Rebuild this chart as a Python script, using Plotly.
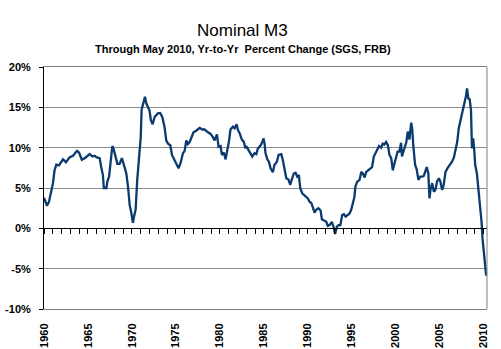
import plotly.graph_objects as go

# Decimal year and year-to-year percent change
years = [
    1960.00, 1960.17, 1960.34, 1960.57, 1960.84, 1961.02, 1961.20, 1961.40, 1961.70, 1962.16,
    1962.50, 1962.90, 1963.30, 1963.75, 1963.98, 1964.30, 1964.70, 1965.20, 1965.50, 1965.76,
    1966.00, 1966.33, 1966.50, 1966.70, 1966.80, 1967.10, 1967.20, 1967.40, 1967.60, 1967.77,
    1967.90, 1968.10, 1968.34, 1968.60, 1968.86, 1969.10, 1969.36, 1969.55, 1969.74, 1969.93,
    1970.11, 1970.23, 1970.42, 1970.60, 1970.80, 1971.00, 1971.10, 1971.36, 1971.48, 1971.63,
    1971.82, 1972.00, 1972.15, 1972.35, 1972.58, 1972.95, 1973.20, 1973.45, 1973.70, 1973.90,
    1974.10, 1974.36, 1974.55, 1974.74, 1975.05, 1975.30, 1975.53, 1975.80, 1975.99, 1976.18,
    1976.36, 1976.56, 1976.80, 1977.00, 1977.30, 1977.70, 1978.00, 1978.26, 1978.64, 1978.94,
    1979.20, 1979.40, 1979.66, 1979.85, 1980.08, 1980.23, 1980.45, 1980.65, 1980.84, 1981.02,
    1981.20, 1981.48, 1981.67, 1981.90, 1982.05, 1982.24, 1982.50, 1982.73, 1982.90, 1983.00,
    1983.26, 1983.50, 1983.68, 1983.94, 1984.14, 1984.32, 1984.63, 1984.82, 1984.97, 1985.08,
    1985.19, 1985.39, 1985.57, 1985.76, 1986.02, 1986.20, 1986.48, 1986.67, 1986.98, 1987.16,
    1987.35, 1987.55, 1987.80, 1988.00, 1988.18, 1988.40, 1988.60, 1988.80, 1988.98, 1989.14,
    1989.36, 1989.63, 1990.00, 1990.19, 1990.39, 1990.57, 1990.76, 1990.95, 1991.20, 1991.45,
    1991.60, 1991.80, 1992.10, 1992.27, 1992.47, 1992.73, 1992.92, 1993.10, 1993.30, 1993.50,
    1993.70, 1993.90, 1994.10, 1994.30, 1994.47, 1994.74, 1994.93, 1995.10, 1995.30, 1995.40,
    1995.60, 1995.88, 1996.07, 1996.25, 1996.45, 1996.64, 1996.90, 1997.10, 1997.30, 1997.50,
    1997.70, 1997.95, 1998.10, 1998.33, 1998.52, 1998.70, 1998.90, 1999.10, 1999.28, 1999.48,
    1999.66, 1999.85, 2000.05, 2000.20, 2000.40, 2000.60, 2000.70, 2000.90, 2001.07, 2001.20,
    2001.36, 2001.55, 2001.75, 2001.86, 2002.00, 2002.20, 2002.38, 2002.57, 2002.77, 2003.00,
    2003.18, 2003.37, 2003.52, 2003.70, 2003.83, 2003.94, 2004.14, 2004.32, 2004.50, 2004.70,
    2004.90, 2005.08, 2005.27, 2005.45, 2005.65, 2005.90, 2006.10, 2006.36, 2006.60, 2006.78,
    2006.98, 2007.16, 2007.43, 2007.60, 2007.80, 2007.98, 2008.10, 2008.25, 2008.40, 2008.55,
    2008.66, 2008.80, 2008.92, 2009.03, 2009.22, 2009.40, 2009.60, 2009.75, 2009.86, 2010.05,
    2010.25, 2010.33,
]
m3_pct = [
    3.8, 3.2, 2.8, 3.3, 4.5, 5.6, 7.2, 7.9, 7.8, 8.55,
    8.2, 8.8, 9.0, 9.6, 9.4, 8.5, 8.75, 9.2, 8.9, 9.0,
    8.8, 8.7, 7.6, 6.6, 5.0, 5.0, 5.8, 6.4, 8.5, 10.2,
    9.9, 9.1, 8.0, 8.0, 8.7, 7.8, 6.8, 5.2, 2.9, 1.9,
    0.7, 1.4, 2.35, 6.0, 8.5, 11.3, 14.7, 15.7, 16.3, 15.5,
    14.9, 14.6, 13.4, 12.9, 13.8, 14.25, 14.3, 13.8, 12.6, 10.9,
    10.5, 10.3, 9.1, 8.7, 7.85, 7.45, 8.1, 9.3, 9.6, 10.9,
    10.45, 10.7, 11.35, 11.9, 12.1, 12.45, 12.25, 12.25, 11.9, 11.7,
    11.3, 10.9, 11.65, 10.1, 10.2, 9.1, 9.4, 8.55, 9.7, 10.7,
    12.25, 12.6, 12.4, 12.9, 12.2, 11.8, 11.0, 10.7, 9.9, 10.2,
    9.7, 9.3, 8.9, 9.3, 9.2, 9.9, 10.3, 10.7, 11.15, 10.5,
    9.3, 8.55, 8.25, 7.45, 6.95, 7.85, 8.25, 9.1, 9.2, 8.45,
    7.45, 6.2, 6.05, 5.4, 6.05, 6.8, 6.9, 6.4, 6.6, 4.95,
    4.35, 4.1, 3.7, 3.3, 3.15, 2.6, 1.95, 2.3, 2.5, 2.2,
    1.1, 1.0, 0.8, 0.3, 0.4, 0.8, 0.2, -0.7, 0.2, 0.4,
    0.4, 1.65, 1.75, 1.45, 1.65, 1.85, 2.3, 3.1, 3.9, 5.15,
    5.75, 6.0, 7.0, 6.8, 6.3, 7.0, 7.2, 7.4, 7.6, 8.9,
    9.3, 9.9, 10.2, 10.0, 10.5, 10.4, 10.7, 10.3, 9.1, 8.7,
    7.2, 8.05, 9.1, 9.5, 9.5, 10.6, 8.9, 9.7, 10.1, 10.7,
    12.0, 11.0, 13.1, 12.4, 10.1, 7.85, 7.3, 6.0, 6.4, 6.4,
    6.5, 7.0, 7.6, 6.8, 3.7, 4.75, 5.6, 4.55, 4.75, 5.85,
    6.2, 5.75, 4.75, 5.4, 7.0, 7.5, 7.75, 8.2, 8.75, 9.7,
    10.7, 12.4, 13.6, 14.65, 15.4, 16.4, 17.35, 16.1, 16.0, 14.65,
    9.9, 11.15, 9.7, 7.85, 6.8, 4.95, 2.7, 0.8, -1.25, -3.9,
    -5.6, -5.9,
]

x_label_years = list(range(1960, 2011, 5))
y_ticks = [-10, -5, 0, 5, 10, 15, 20]

FONT = "Liberation Sans"
XRANGE = [1960, 2010.37]

fig = go.Figure()
fig.add_trace(go.Scatter(
    x=years, y=m3_pct, mode="lines",
    line=dict(color="#0a3a6e", width=2.3),
    hoverinfo="skip", showlegend=False,
))
# carrier trace for the zero-line axis with yearly ticks
fig.add_trace(go.Scatter(x=[], y=[], xaxis="x2", yaxis="y", showlegend=False, hoverinfo="skip"))

fig.update_layout(
    width=501, height=349,
    margin=dict(l=44, r=14, t=67, b=40),
    paper_bgcolor="white", plot_bgcolor="white",
    font=dict(family=FONT, color="black"),
    xaxis=dict(
        range=XRANGE, tickmode="array", tickvals=x_label_years,
        ticktext=[str(v) for v in x_label_years],
        ticks="", showgrid=False, zeroline=False, automargin=False,
        showline=True, linecolor="#808080", linewidth=1, mirror=True,
        tickangle=-90, tickfont=dict(family=FONT, size=11, weight="bold", color="black"),
        ticklabelstandoff=9,
    ),
    xaxis2=dict(
        range=XRANGE, overlaying="x", anchor="free", position=1/3,
        tickmode="linear", tick0=1960, dtick=1, automargin=False,
        ticks="outside", ticklen=5, tickcolor="black", tickwidth=1,
        showticklabels=False, showgrid=False, zeroline=False,
        showline=True, linecolor="black", linewidth=1,
    ),
    yaxis=dict(
        range=[-10, 20], tickmode="array", tickvals=y_ticks,
        ticktext=[f"{v}%" for v in y_ticks], automargin=False,
        showgrid=True, gridcolor="#8c8c8c", gridwidth=1, zeroline=False,
        showline=True, linecolor="black", linewidth=1,
        ticks="outside", ticklen=4, tickcolor="black",
        tickfont=dict(family=FONT, size=11, weight="bold", color="black"),
        ticklabelstandoff=6,
    ),
    shapes=[dict(type="line", xref="paper", yref="paper", x0=1, x1=1, y0=0, y1=1,
                 line=dict(color="#808080", width=1))],
    annotations=[
        dict(text="Nominal M3", xref="paper", yref="paper", x=0.449, y=1.15,
             xanchor="center", yanchor="middle", showarrow=False,
             font=dict(family=FONT, size=17, color="black")),
        dict(text="Through May 2010, Yr-to-Yr  Percent Change (SGS, FRB)",
             xref="paper", yref="paper", x=0.449, y=1.074,
             xanchor="center", yanchor="middle", showarrow=False,
             font=dict(family=FONT, size=11, weight="bold", color="black")),
    ],
)

fig.write_html("out.html")
